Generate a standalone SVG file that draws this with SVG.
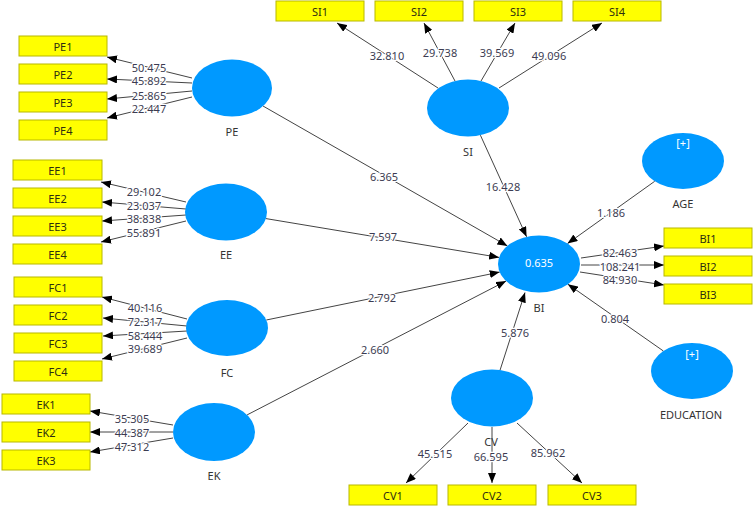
<svg xmlns="http://www.w3.org/2000/svg" width="754" height="507" viewBox="0 0 754 507">
<style>
.box{fill:#ffff00;stroke:#b8b800;stroke-width:1}
.bt{font-family:"Noto Sans","Open Sans",sans-serif;font-size:11px;fill:#2e2e10;text-anchor:middle;dominant-baseline:central}
.lv{fill:#0099ff}
.nl{font-family:"Noto Sans","Open Sans",sans-serif;font-size:11px;fill:#333;text-anchor:middle;dominant-baseline:central}
.wt{font-family:"Noto Sans","Open Sans",sans-serif;font-size:11px;fill:#ffffff;text-anchor:middle;dominant-baseline:central}
.ln{stroke:#444;stroke-width:1;fill:none;marker-end:url(#ah)}
.lb{font-family:"Noto Sans","Open Sans",sans-serif;font-size:11px;fill:#3c3c52;text-anchor:middle;dominant-baseline:central;stroke:#fff;stroke-width:2.5;paint-order:stroke;stroke-linejoin:round}
</style>
<defs>
<marker id="ah" markerUnits="userSpaceOnUse" markerWidth="10" markerHeight="8" refX="10" refY="4" orient="auto">
<path d="M0,0 L10,4 L0,8 Z" fill="#000"/>
</marker>
</defs>
<rect width="754" height="507" fill="#fff"/>
<g id="connectors">
<line class="ln" x1="192" y1="78" x2="107" y2="57"/>
<line class="ln" x1="192" y1="83" x2="107" y2="79"/>
<line class="ln" x1="192" y1="91" x2="107" y2="99"/>
<line class="ln" x1="192" y1="97" x2="107" y2="118"/>
<line class="ln" x1="186" y1="202" x2="101" y2="182"/>
<line class="ln" x1="186" y1="209" x2="102" y2="202"/>
<line class="ln" x1="186" y1="215" x2="102" y2="221"/>
<line class="ln" x1="186" y1="221" x2="101" y2="242"/>
<line class="ln" x1="187" y1="319" x2="102" y2="297"/>
<line class="ln" x1="187" y1="326" x2="103" y2="318"/>
<line class="ln" x1="187" y1="331" x2="103" y2="336"/>
<line class="ln" x1="187" y1="338" x2="102" y2="359"/>
<line class="ln" x1="173" y1="425" x2="90" y2="411"/>
<line class="ln" x1="173" y1="432" x2="90" y2="432"/>
<line class="ln" x1="173" y1="438" x2="90" y2="452"/>
<line class="ln" x1="438" y1="88" x2="337" y2="23"/>
<line class="ln" x1="455" y1="81" x2="424" y2="23"/>
<line class="ln" x1="481" y1="81" x2="515" y2="23"/>
<line class="ln" x1="499" y1="88" x2="602" y2="23"/>
<line class="ln" x1="581" y1="258" x2="664" y2="246"/>
<line class="ln" x1="581" y1="265" x2="664" y2="265"/>
<line class="ln" x1="580" y1="272" x2="664" y2="285"/>
<line class="ln" x1="468" y1="423" x2="406" y2="483"/>
<line class="ln" x1="492" y1="427" x2="492" y2="483"/>
<line class="ln" x1="517" y1="423" x2="582" y2="483"/>
<line class="ln" x1="263" y1="106" x2="507.4" y2="245.9"/>
<line class="ln" x1="266" y1="218.6" x2="499.1" y2="257.4"/>
<line class="ln" x1="266.3" y1="320" x2="499.7" y2="272.1"/>
<line class="ln" x1="247.1" y1="414.9" x2="506.1" y2="281"/>
<line class="ln" x1="480.4" y1="135.2" x2="526.6" y2="236.8"/>
<line class="ln" x1="654.7" y1="181.3" x2="567.5" y2="243.6"/>
<line class="ln" x1="663.4" y1="351" x2="567.9" y2="284.2"/>
<line class="ln" x1="500" y1="370.3" x2="525" y2="292.5"/>
<text class="lb" x="149" y="67">50.475</text>
<text class="lb" x="149" y="80.5">45.892</text>
<text class="lb" x="149" y="95">25.865</text>
<text class="lb" x="149" y="108.5">22.447</text>
<text class="lb" x="144" y="191.5">29.102</text>
<text class="lb" x="144" y="205">23.037</text>
<text class="lb" x="144" y="218.5">38.838</text>
<text class="lb" x="144" y="232">55.891</text>
<text class="lb" x="145" y="307.5">40.116</text>
<text class="lb" x="145" y="321.5">72.317</text>
<text class="lb" x="145" y="335">58.444</text>
<text class="lb" x="145" y="348.5">39.689</text>
<text class="lb" x="132" y="418.5">35.305</text>
<text class="lb" x="132" y="432">44.387</text>
<text class="lb" x="132" y="446">47.312</text>
<text class="lb" x="387" y="55">32.810</text>
<text class="lb" x="440" y="52">29.738</text>
<text class="lb" x="497" y="52">39.569</text>
<text class="lb" x="549" y="55">49.096</text>
<text class="lb" x="620" y="252.5">82.463</text>
<text class="lb" x="620" y="266">108.241</text>
<text class="lb" x="620" y="279.5">84.930</text>
<text class="lb" x="435" y="453">45.515</text>
<text class="lb" x="491" y="456">66.595</text>
<text class="lb" x="548" y="452">85.962</text>
<text class="lb" x="384" y="176">6.365</text>
<text class="lb" x="383" y="236">7.597</text>
<text class="lb" x="382" y="297">2.792</text>
<text class="lb" x="375" y="349">2.660</text>
<text class="lb" x="503" y="186">16.428</text>
<text class="lb" x="611" y="212">1.186</text>
<text class="lb" x="615" y="318">0.804</text>
<text class="lb" x="515" y="332">5.876</text>
</g>
<g id="PE">
<ellipse class="lv" cx="232" cy="88" rx="40" ry="28.5"/>
<text class="nl" x="232" y="131">PE</text>
</g>
<g id="EE">
<ellipse class="lv" cx="226" cy="212" rx="41" ry="28.5"/>
<text class="nl" x="226" y="254">EE</text>
</g>
<g id="FC">
<ellipse class="lv" cx="227" cy="328" rx="41" ry="28"/>
<text class="nl" x="227" y="372">FC</text>
</g>
<g id="EK">
<ellipse class="lv" cx="214" cy="432" rx="41" ry="29"/>
<text class="nl" x="214" y="475">EK</text>
</g>
<g id="SI">
<ellipse class="lv" cx="468" cy="108" rx="41" ry="28.5"/>
<text class="nl" x="468" y="151">SI</text>
</g>
<g id="BI">
<ellipse class="lv" cx="539" cy="264" rx="41" ry="28.5"/>
<text class="wt" x="539" y="262">0.635</text>
<text class="nl" x="539" y="307">BI</text>
</g>
<g id="AGE">
<ellipse class="lv" cx="683" cy="161" rx="41" ry="28"/>
<text class="wt" x="683" y="142">[+]</text>
<text class="nl" x="683" y="203">AGE</text>
</g>
<g id="EDUCATION">
<ellipse class="lv" cx="692" cy="371" rx="41" ry="28"/>
<text class="wt" x="692" y="353">[+]</text>
<text class="nl" x="691" y="414">EDUCATION</text>
</g>
<g id="CV">
<ellipse class="lv" cx="492" cy="398" rx="41" ry="28.5"/>
<text class="nl" x="491" y="441">CV</text>
</g>
<g id="PE1"><rect class="box" x="19" y="36" width="88" height="20"/><text class="bt" x="63" y="46">PE1</text></g>
<g id="PE2"><rect class="box" x="19" y="64" width="88" height="20"/><text class="bt" x="63" y="74">PE2</text></g>
<g id="PE3"><rect class="box" x="19" y="92" width="88" height="20"/><text class="bt" x="63" y="102">PE3</text></g>
<g id="PE4"><rect class="box" x="19" y="120" width="88" height="20"/><text class="bt" x="63" y="130">PE4</text></g>
<g id="EE1"><rect class="box" x="13" y="160" width="89" height="20"/><text class="bt" x="57.5" y="170">EE1</text></g>
<g id="EE2"><rect class="box" x="13" y="188" width="89" height="20"/><text class="bt" x="57.5" y="198">EE2</text></g>
<g id="EE3"><rect class="box" x="13" y="216" width="89" height="20"/><text class="bt" x="57.5" y="226">EE3</text></g>
<g id="EE4"><rect class="box" x="13" y="244" width="89" height="20"/><text class="bt" x="57.5" y="254">EE4</text></g>
<g id="FC1"><rect class="box" x="14" y="277" width="88" height="20"/><text class="bt" x="58" y="287">FC1</text></g>
<g id="FC2"><rect class="box" x="14" y="305" width="88" height="20"/><text class="bt" x="58" y="315">FC2</text></g>
<g id="FC3"><rect class="box" x="14" y="333" width="88" height="20"/><text class="bt" x="58" y="343">FC3</text></g>
<g id="FC4"><rect class="box" x="14" y="361" width="88" height="20"/><text class="bt" x="58" y="371">FC4</text></g>
<g id="EK1"><rect class="box" x="2" y="394" width="88" height="20"/><text class="bt" x="46" y="404">EK1</text></g>
<g id="EK2"><rect class="box" x="2" y="422" width="88" height="20"/><text class="bt" x="46" y="432">EK2</text></g>
<g id="EK3"><rect class="box" x="2" y="450" width="88" height="20"/><text class="bt" x="46" y="460">EK3</text></g>
<g id="SI1"><rect class="box" x="276" y="1" width="88" height="20"/><text class="bt" x="320" y="11">SI1</text></g>
<g id="SI2"><rect class="box" x="375" y="1" width="88" height="20"/><text class="bt" x="419" y="11">SI2</text></g>
<g id="SI3"><rect class="box" x="474" y="1" width="88" height="20"/><text class="bt" x="518" y="11">SI3</text></g>
<g id="SI4"><rect class="box" x="573" y="1" width="88" height="20"/><text class="bt" x="617" y="11">SI4</text></g>
<g id="BI1"><rect class="box" x="664" y="228" width="88" height="20"/><text class="bt" x="708" y="238">BI1</text></g>
<g id="BI2"><rect class="box" x="664" y="256" width="88" height="20"/><text class="bt" x="708" y="266">BI2</text></g>
<g id="BI3"><rect class="box" x="664" y="284" width="88" height="20"/><text class="bt" x="708" y="294">BI3</text></g>
<g id="CV1"><rect class="box" x="349" y="485" width="88" height="20"/><text class="bt" x="393" y="495">CV1</text></g>
<g id="CV2"><rect class="box" x="448" y="485" width="88" height="20"/><text class="bt" x="492" y="495">CV2</text></g>
<g id="CV3"><rect class="box" x="548" y="485" width="88" height="20"/><text class="bt" x="592" y="495">CV3</text></g>
</svg>
